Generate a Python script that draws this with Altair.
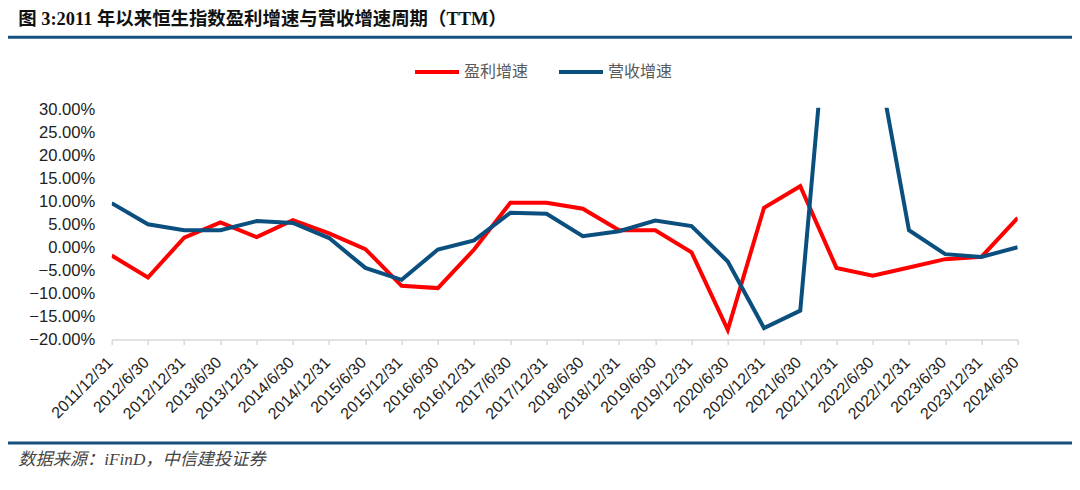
import altair as alt
import pandas as pd

title_text = "图 3:2011 年以来恒生指数盈利增速与营收增速周期（TTM）"
source_text = "数据来源：iFinD，中信建投证券"

dates = [
    "2011/12/31", "2012/6/30", "2012/12/31", "2013/6/30", "2013/12/31", "2014/6/30",
    "2014/12/31", "2015/6/30", "2015/12/31", "2016/6/30", "2016/12/31", "2017/6/30",
    "2017/12/31", "2018/6/30", "2018/12/31", "2019/6/30", "2019/12/31", "2020/6/30",
    "2020/12/31", "2021/6/30", "2021/12/31", "2022/6/30", "2022/12/31", "2023/6/30",
    "2023/12/31", "2024/6/30",
]
profit_growth = [
    -1.7, -6.5, 2.2, 5.5, 2.3, 6.0, 3.1, -0.3, -8.3, -8.8, -0.4, 9.8,
    9.8, 8.5, 3.8, 3.8, -1.0, -17.9, 8.7, 13.4, -4.4, -6.1, -4.3, -2.5,
    -2.0, 6.5,
]
revenue_growth = [
    9.7, 5.1, 3.8, 3.8, 5.8, 5.4, 2.1, -4.4, -7.0, -0.4, 1.6, 7.6,
    7.4, 2.5, 3.6, 5.9, 4.7, -3.0, -17.5, -13.7, 75.0, 47.0, 3.8, -1.4,
    -2.0, 0.1,
]
series_names = ["盈利增速", "营收增速"]
series_colors = ["#FF0000", "#0B4F7F"]
y_ticks = [-20, -15, -10, -5, 0, 5, 10, 15, 20, 25, 30]

rows = []
for d, p, r in zip(dates, profit_growth, revenue_growth):
    rows.append({"date": d, "series": series_names[0], "value": p})
    rows.append({"date": d, "series": series_names[1], "value": r})
df = pd.DataFrame(rows)

W, H = 906, 231.8
PL, PT = 103.7, 99.7

lines = alt.Chart(df).mark_line(strokeWidth=4, clip=True).encode(
    x=alt.X("date:O", sort=dates, scale=alt.Scale(type="point", padding=0),
            axis=alt.Axis(title=None, labelAngle=-45, labelAlign="right", labelBaseline="middle",
                          labelFontSize=16, labelFont="Liberation Sans", labelColor="#222222",
                          labelPadding=15, labelOffset=-2, labelOverlap=False,
                          domainColor="#D9D9D9", domainWidth=1.5, tickColor="#D9D9D9",
                          tickWidth=1.5, tickSize=5)),
    y=alt.Y("value:Q", scale=alt.Scale(domain=[-20, 30.5], nice=False, zero=False),
            axis=alt.Axis(title=None, values=y_ticks, grid=False, domain=False, ticks=False,
                          labelExpr="format(datum.value, '.2f') + '%'",
                          labelFontSize=16.6, labelFont="Liberation Sans", labelColor="#222222",
                          labelPadding=17)),
    color=alt.Color("series:N", scale=alt.Scale(domain=series_names, range=series_colors),
                    legend=alt.Legend(title=None, orient="none", direction="horizontal",
                                      legendX=301.3, legendY=-59.7, padding=0,
                                      symbolType="stroke", symbolSize=1936, symbolStrokeWidth=4,
                                      labelFontSize=16, labelFont="Noto Sans CJK SC",
                                      labelColor="#595959", labelOffset=3, columnPadding=22)),
    order=alt.Order("idx:Q"),
).transform_window(idx="row_number()", groupby=["series"])

one = pd.DataFrame({"t": [title_text], "s": [source_text]})

title = alt.Chart(one).mark_text(align="left", baseline="middle", fontSize=18.4, fontWeight="bold",
                                 font="Liberation Serif, Noto Sans CJK SC", color="#111111").encode(
    text="t:N", x=alt.value(-93.4), y=alt.value(-89.2))

source = alt.Chart(one).mark_text(align="left", baseline="middle", fontSize=17.2, fontStyle="italic",
                                  font="Liberation Serif, Noto Sans CJK SC", color="#444444").encode(
    text="s:N", x=alt.value(-93.4), y=alt.value(352.3))

rule_top = alt.Chart(one).mark_rule(color="#16507F", strokeWidth=3).encode(
    x=alt.value(-105.7), x2=alt.value(960.3), y=alt.value(-70.4))
rule_bottom = alt.Chart(one).mark_rule(color="#16507F", strokeWidth=3).encode(
    x=alt.value(-105.7), x2=alt.value(960.3), y=alt.value(335.3))

chart = alt.layer(lines, title, source, rule_top, rule_bottom).properties(
    width=W, height=H,
    padding={"left": PL, "top": PT, "right": 54.3, "bottom": 140},
    autosize=alt.AutoSizeParams(type="none"),
    background="white",
).configure_view(stroke=None)

chart.save("out.html", embed_options={"renderer": "svg", "actions": False})
